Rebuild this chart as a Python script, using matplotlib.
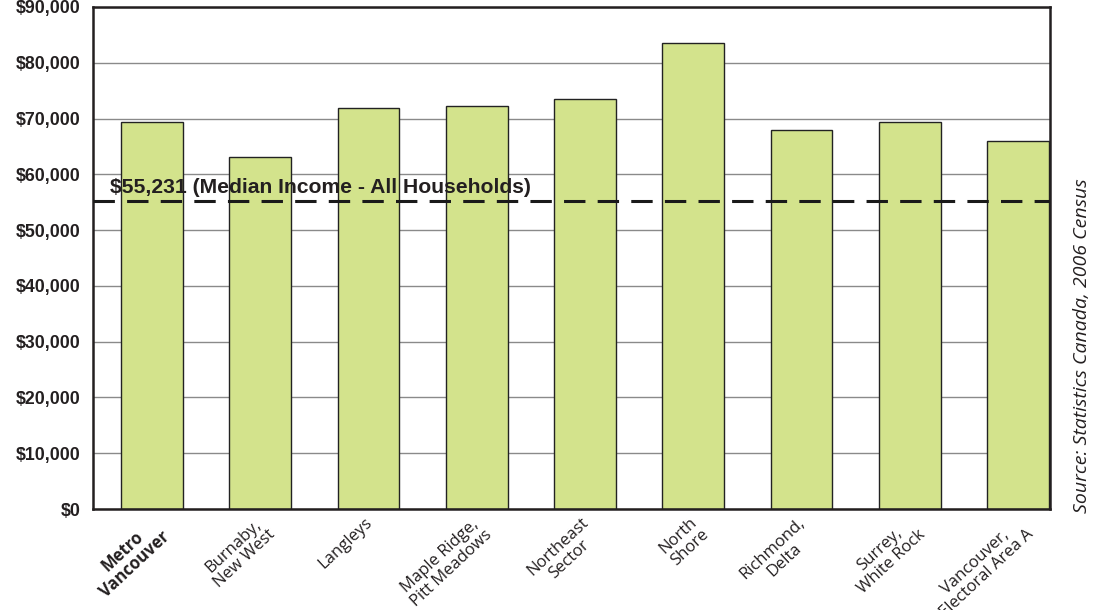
import numpy as np
import matplotlib
matplotlib.use('Agg')
from matplotlib import pyplot as plt
from matplotlib import transforms

# median household income by sub-region, 2006
regions = ['Metro\nVancouver', 'Burnaby,\nNew West', 'Langleys', 'Maple Ridge,\nPitt Meadows',
           'Northeast\nSector', 'North\nShore', 'Richmond,\nDelta', 'Surrey,\nWhite Rock',
           'Vancouver,\nElectoral Area A']
income = [69400, 63100, 71900, 72250, 73500, 83550, 67950, 69400, 66000]
median_all = 55231
yticks = np.arange(0, 90001, 10000)

fig = plt.figure(figsize=(10.97, 6.10), dpi=100)
ax = fig.add_axes([93 / 1097, 1 - 509 / 610, (1050 - 93) / 1097, (509 - 7) / 610])

x = np.arange(len(regions))
ax.set_axisbelow(True)
ax.yaxis.grid(True, color='#8a8a8a', linewidth=1)
ax.bar(x, income, width=0.57, color='#d3e38c', edgecolor='#222222', linewidth=1, zorder=2)

ax.axhline(median_all, color='#1a1a1a', linewidth=2.2, dashes=(7, 4), zorder=3)
ax.text(0.16 - 0.545, median_all + 700, '$55,231 (Median Income - All Households)',
        family='Liberation Sans', fontweight='bold', fontsize=15.2, color='#231f20',
        va='bottom', ha='left', zorder=4)

ax.set_xlim(-0.545, 8.295)
ax.set_ylim(0, 90000)
ax.set_yticks(yticks)
ax.set_yticklabels(['${:,}'.format(v) for v in yticks], family='Liberation Sans',
                   fontweight='bold', fontsize=12.8, color='#231f20')
ax.tick_params(axis='y', length=0, pad=9)
ax.tick_params(axis='x', length=0, pad=4)
ax.set_xticks(x)
ax.set_xticklabels(regions, rotation=43, ha='right', va='top', rotation_mode='anchor',
                   family='Open Sans', fontsize=12, color='#231f20', multialignment='center')
ax.get_xticklabels()[0].set_fontweight('bold')
shift = transforms.ScaledTranslation(-4 / 100, 0, fig.dpi_scale_trans)
for lab in ax.get_xticklabels():
    lab.set_linespacing(1.05)
    lab.set_transform(lab.get_transform() + shift)

for s in ax.spines.values():
    s.set_linewidth(1.8)
    s.set_color('#231f20')

fig.text(1082 / 1097, 1 - 346 / 610, 'Source: Statistics Canada, 2006 Census', rotation=90,
         family='Open Sans', style='italic', fontsize=14, color='#231f20',
         ha='center', va='center')

fig.savefig('out.png', dpi=100)
